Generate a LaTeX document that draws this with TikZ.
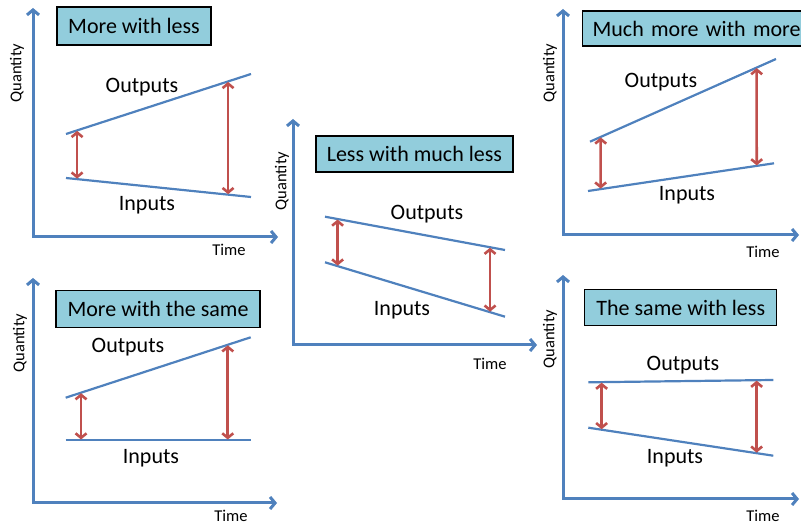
\documentclass[tikz,border=0pt]{standalone}
\usepackage{fontspec}
\setmainfont{Carlito}
\usetikzlibrary{arrows.meta,calc}
\definecolor{axisblue}{RGB}{79,129,189}
\definecolor{gapred}{RGB}{192,80,77}
\definecolor{titlefill}{RGB}{146,205,220}
\begin{document}
\begin{tikzpicture}[x=1pt,y=-1pt,
		axis/.style={draw=axisblue,line width=3pt,{Straight Barb[length=5pt,width=12pt]}-{Straight Barb[length=5pt,width=12pt]}},
		trend/.style={draw=axisblue,line width=2.2pt},
		gap/.style={draw=gapred,line width=2.6pt,shorten <=0.5pt,shorten >=0.5pt,{Straight Barb[length=4.5pt,width=11pt]}-{Straight Barb[length=4.5pt,width=11pt]}},
		titlebox/.style={draw=black,line width=1.2pt,fill=titlefill,inner sep=0pt,font=\fontsize{22}{26}\selectfont},
		lbl/.style={inner sep=0pt,font=\fontsize{22}{26}\selectfont},
		axlbl/.style={inner sep=0pt,font=\fontsize{16.5}{19}\selectfont}]
			\useasboundingbox (0,0) rectangle (801,526);
			\coordinate (q1) at (33,8); \coordinate (o1) at (33,237); \coordinate (t1) at (278,237);
			\draw [axis] (q1) -- (o1) -- (t1);
			\node [titlebox,minimum width=154pt,minimum height=38pt] (title1) at (134,26) {More with less};
			\coordinate (out1a) at (66,134); \coordinate (out1b) at (251,74);
			\coordinate (in1a) at (66,178); \coordinate (in1b) at (251,197);
			\draw [trend] (out1a) -- (out1b);
			\draw [trend] (in1a) -- (in1b);
			\draw [gap] ($(out1a)!.06!(out1b)$) -- ($(in1a)!.06!(in1b)$);
			\draw [gap] ($(out1a)!.876!(out1b)$) -- ($(in1a)!.876!(in1b)$);
			\node [lbl] (outputs1) at (142,87) {Outputs};
			\node [lbl] (inputs1) at (147,205) {Inputs};
			\node [axlbl,rotate=90] (quantity1) at (17,73) {Quantity};
			\node [axlbl] (time1) at (229,250) {Time};

			\coordinate (q2) at (293,119); \coordinate (o2) at (293,345); \coordinate (t2) at (537,345);
			\draw [axis] (q2) -- (o2) -- (t2);
			\node [titlebox,minimum width=197pt,minimum height=36pt] (title2) at (414.4,154) {Less with much less};
			\coordinate (out2a) at (325,216.7); \coordinate (out2b) at (505,250);
			\coordinate (in2a) at (325,262.3); \coordinate (in2b) at (505,316.7);
			\draw [trend] (out2a) -- (out2b);
			\draw [trend] (in2a) -- (in2b);
			\draw [gap] ($(out2a)!.07!(out2b)$) -- ($(in2a)!.07!(in2b)$);
			\draw [gap] ($(out2a)!.917!(out2b)$) -- ($(in2a)!.917!(in2b)$);
			\node [lbl] (outputs2) at (427,214) {Outputs};
			\node [lbl] (inputs2) at (402,310) {Inputs};
			\node [axlbl,rotate=90] (quantity2) at (282,181) {Quantity};
			\node [axlbl] (time2) at (490,364) {Time};

			\coordinate (q3) at (563,9); \coordinate (o3) at (563,235); \coordinate (t3) at (799,235);
			\draw [axis] (q3) -- (o3) -- (t3);
			\node [titlebox,anchor=west,inner xsep=10pt,text width=210pt,align=left,minimum height=35pt] (title3) at (582,28.5) {Much more with more};
			\coordinate (out3a) at (590,141.7); \coordinate (out3b) at (776,59);
			\coordinate (in3a) at (588,191); \coordinate (in3b) at (774,163.3);
			\draw [trend] (out3a) -- (out3b);
			\draw [trend] (in3a) -- (in3b);
			\draw [gap] ($(out3a)!.0575!(out3b)$) -- ($(in3a)!.068!(in3b)$);
			\draw [gap] ($(out3a)!.896!(out3b)$) -- ($(in3a)!.907!(in3b)$);
			\node [lbl] (outputs3) at (661,82) {Outputs};
			\node [lbl] (inputs3) at (687,195) {Inputs};
			\node [axlbl,rotate=90] (quantity3) at (550,73) {Quantity};
			\node [axlbl] (time3) at (763,252) {Time};

			\coordinate (q4) at (33,278); \coordinate (o4) at (33,503); \coordinate (t4) at (277,503);
			\draw [axis] (q4) -- (o4) -- (t4);
			\node [titlebox,minimum width=204pt,minimum height=37pt] (title4) at (158,309.3) {More with the same};
			\coordinate (out4a) at (65.7,397.7); \coordinate (out4b) at (250.7,337.3);
			\coordinate (in4a) at (65.7,440); \coordinate (in4b) at (250.7,440);
			\draw [trend] (out4a) -- (out4b);
			\draw [trend] (in4a) -- (in4b);
			\draw [gap] ($(out4a)!.083!(out4b)$) -- ($(in4a)!.083!(in4b)$);
			\draw [gap] ($(out4a)!.876!(out4b)$) -- ($(in4a)!.876!(in4b)$);
			\node [lbl] (outputs4) at (128,347) {Outputs};
			\node [lbl] (inputs4) at (151,458) {Inputs};
			\node [axlbl,rotate=90] (quantity4) at (20,343) {Quantity};
			\node [axlbl] (time4) at (231,516) {Time};

			\coordinate (q5) at (563,275); \coordinate (o5) at (563,499); \coordinate (t5) at (799,499);
			\draw [axis] (q5) -- (o5) -- (t5);
			\node [titlebox,minimum width=192pt,minimum height=36pt] (title5) at (680.8,307.5) {The same with less};
			\coordinate (out5a) at (588.3,382.3); \coordinate (out5b) at (773.3,380);
			\coordinate (in5a) at (588.3,427.7); \coordinate (in5b) at (773.3,455.7);
			\draw [trend] (out5a) -- (out5b);
			\draw [trend] (in5a) -- (in5b);
			\draw [gap] ($(out5a)!.072!(out5b)$) -- ($(in5a)!.072!(in5b)$);
			\draw [gap] ($(out5a)!.91!(out5b)$) -- ($(in5a)!.91!(in5b)$);
			\node [lbl] (outputs5) at (683,365) {Outputs};
			\node [lbl] (inputs5) at (675,458) {Inputs};
			\node [axlbl,rotate=90] (quantity5) at (550,339) {Quantity};
			\node [axlbl] (time5) at (763,516) {Time};
		\end{tikzpicture}
\end{document}
